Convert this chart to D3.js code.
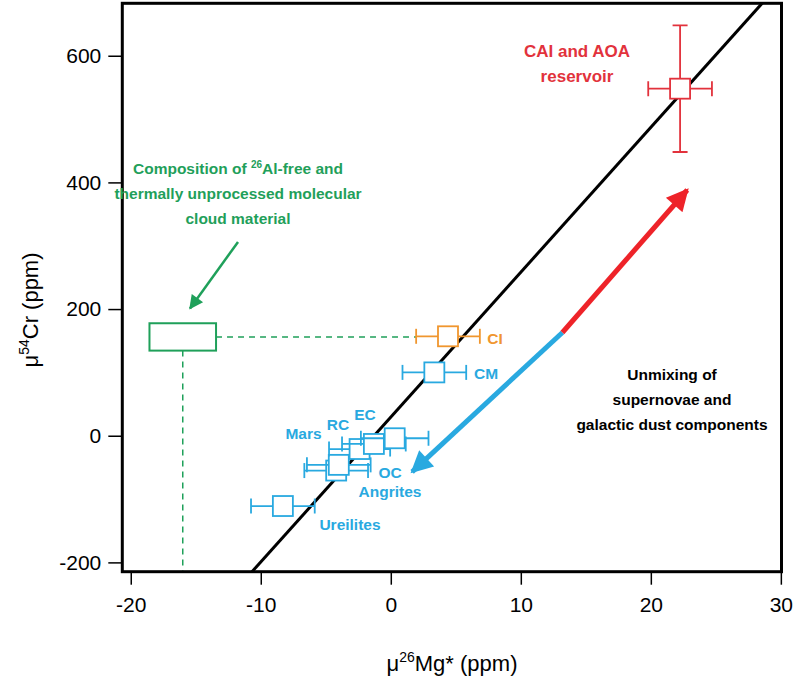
<!DOCTYPE html>
<html><head><meta charset="utf-8">
<script src="https://cdn.jsdelivr.net/npm/d3@7"></script>
<style>
body{margin:0;background:#fff;}
svg{display:block;font-family:"Liberation Sans",Arial,Helvetica,sans-serif;}
</style></head>
<body><svg id="c" width="796" height="682"></svg>
<script>
// ---- data ----
const groups = ["Ureilites","Angrites","OC","Mars","RC","EC","CM","CI","CAI and AOA"];
const mg26 = [-8.3,-4.2,-4.0,-2.4,-1.3,0.3,3.35,4.4,22.25];
const cr54 = [-111,-55,-46,-21,-13,-4,100,157,548];
const mgErr = [2.45,2.45,2.45,2.35,2.45,2.6,2.45,2.45,2.45];
const crErr = [0,0,0,0,0,0,0,0,100];
const pointColors = ["#29a9e0","#29a9e0","#29a9e0","#29a9e0","#29a9e0","#29a9e0","#29a9e0","#f0962e","#e2323c"];
const xTicks = [-20,-10,0,10,20,30];
const yTicks = [-200,0,200,400,600];
const lineIntercept = 29.4, lineSlope = 22.88;
// molecular cloud composition box
const cloudX = -16.0, cloudY = 156, cloudXErr = 2.56, cloudYErr = 21.6;
// unmixing arrow (data coords): blue end, split, red end
const arrowBlue = [1.64,-57], arrowSplit = [13.2,163], arrowRed = [22.8,388];
const greenArrow = [[-11.75,306],[-15.44,201]];

const svg = d3.select("#c");
const x = d3.scaleLinear().domain([-20.65,30.05]).range([122.3,781.5]);
const y = d3.scaleLinear().domain([-214.7,682.8]).range([571.7,3.3]);
const [X0,X1] = x.range(), [Y0,Y1] = y.range();

const defs = svg.append("defs");
defs.append("clipPath").attr("id","clip").append("rect")
  .attr("x",X0).attr("y",Y1).attr("width",X1-X0).attr("height",Y0-Y1);
function marker(id,color,w,h){
  defs.append("marker").attr("id",id).attr("viewBox","0 0 10 10").attr("refX",9).attr("refY",5)
   .attr("markerWidth",w).attr("markerHeight",h).attr("orient","auto").attr("markerUnits","userSpaceOnUse")
   .append("path").attr("d","M0,0 L10,5 L0,10 Z").attr("fill",color);
}
marker("hRed","#ee2329",26,22);
marker("hBlue","#29a9e0",26,22);
marker("hGreen","#1fa05a",16,14);

const fmt = d => String(d); // plain hyphen-minus as in the reference
// axes
const xAxis = svg.append("g").attr("transform",`translate(0,${Y0})`)
  .call(d3.axisBottom(x).tickValues(xTicks).tickSize(13).tickPadding(12).tickFormat(fmt));
const yAxis = svg.append("g").attr("transform",`translate(${X0},0)`)
  .call(d3.axisLeft(y).tickValues(yTicks).tickSize(14).tickPadding(7).tickFormat(fmt));
[xAxis,yAxis].forEach(g=>{
  g.select(".domain").remove();
  g.selectAll(".tick line").attr("stroke","#000").attr("stroke-width",1.5);
  g.selectAll(".tick text").attr("font-size",21).attr("fill","#000")
   .attr("font-family","Liberation Sans, Arial, sans-serif");
});

const plot = svg.append("g").attr("clip-path","url(#clip)");

// regression line
const lx0 = x.domain()[0], lx1 = x.domain()[1];
plot.append("line")
  .attr("x1",x(lx0)).attr("y1",y(lineIntercept+lineSlope*lx0))
  .attr("x2",x(lx1)).attr("y2",y(lineIntercept+lineSlope*lx1))
  .attr("stroke","#000").attr("stroke-width",3);

// green dashed guides & box
const green = "#1fa05a";
plot.append("line").attr("x1",x(cloudX)).attr("x2",x(cloudX))
  .attr("y1",y(cloudY-cloudYErr)).attr("y2",Y0)
  .attr("stroke",green).attr("stroke-width",1.5).attr("stroke-dasharray","6,5");
plot.append("line").attr("x1",x(cloudX+cloudXErr)).attr("x2",x(mg26[7]-mgErr[7]))
  .attr("y1",y(cloudY)).attr("y2",y(cloudY))
  .attr("stroke",green).attr("stroke-width",1.5).attr("stroke-dasharray","6,5");
plot.append("rect").attr("x",x(cloudX-cloudXErr)).attr("y",y(cloudY+cloudYErr))
  .attr("width",x(cloudX+cloudXErr)-x(cloudX-cloudXErr)).attr("height",y(cloudY-cloudYErr)-y(cloudY+cloudYErr))
  .attr("fill","none").attr("stroke",green).attr("stroke-width",2);

// points with error bars
const pts = groups.map((g,i)=>({g,x:mg26[i],y:cr54[i],ex:mgErr[i],ey:crErr[i],c:pointColors[i]}));
const cap = 7.5, half = 10;
const pg = plot.selectAll("g.pt").data(pts).join("g").attr("class","pt");
pg.append("line").attr("x1",d=>x(d.x-d.ex)).attr("x2",d=>x(d.x+d.ex)).attr("y1",d=>y(d.y)).attr("y2",d=>y(d.y))
  .attr("stroke",d=>d.c).attr("stroke-width",1.8);
pg.append("line").attr("x1",d=>x(d.x-d.ex)).attr("x2",d=>x(d.x-d.ex)).attr("y1",d=>y(d.y)-cap).attr("y2",d=>y(d.y)+cap)
  .attr("stroke",d=>d.c).attr("stroke-width",1.8);
pg.append("line").attr("x1",d=>x(d.x+d.ex)).attr("x2",d=>x(d.x+d.ex)).attr("y1",d=>y(d.y)-cap).attr("y2",d=>y(d.y)+cap)
  .attr("stroke",d=>d.c).attr("stroke-width",1.8);
pg.filter(d=>d.ey>0).each(function(d){
  const s = d3.select(this);
  s.append("line").attr("x1",x(d.x)).attr("x2",x(d.x)).attr("y1",y(d.y+d.ey)).attr("y2",y(d.y-d.ey)).attr("stroke",d.c).attr("stroke-width",1.8);
  s.append("line").attr("x1",x(d.x)-cap).attr("x2",x(d.x)+cap).attr("y1",y(d.y+d.ey)).attr("y2",y(d.y+d.ey)).attr("stroke",d.c).attr("stroke-width",1.8);
  s.append("line").attr("x1",x(d.x)-cap).attr("x2",x(d.x)+cap).attr("y1",y(d.y-d.ey)).attr("y2",y(d.y-d.ey)).attr("stroke",d.c).attr("stroke-width",1.8);
});
pg.append("rect").attr("x",d=>x(d.x)-half).attr("y",d=>y(d.y)-half).attr("width",2*half).attr("height",2*half)
  .attr("fill","#fff").attr("stroke",d=>d.c).attr("stroke-width",1.8);

// unmixing arrow
plot.append("line").attr("x1",x(arrowSplit[0])).attr("y1",y(arrowSplit[1]))
  .attr("x2",x(arrowBlue[0])).attr("y2",y(arrowBlue[1]))
  .attr("stroke","#29a9e0").attr("stroke-width",5).attr("marker-end","url(#hBlue)");
plot.append("line").attr("x1",x(arrowSplit[0])).attr("y1",y(arrowSplit[1]))
  .attr("x2",x(arrowRed[0])).attr("y2",y(arrowRed[1]))
  .attr("stroke","#ee2329").attr("stroke-width",5).attr("marker-end","url(#hRed)");
// green arrow
plot.append("line").attr("x1",x(greenArrow[0][0])).attr("y1",y(greenArrow[0][1]))
  .attr("x2",x(greenArrow[1][0])).attr("y2",y(greenArrow[1][1]))
  .attr("stroke",green).attr("stroke-width",2.5).attr("marker-end","url(#hGreen)");

// frame
svg.append("rect").attr("x",X0).attr("y",Y1).attr("width",X1-X0).attr("height",Y0-Y1)
  .attr("fill","none").attr("stroke","#000").attr("stroke-width",3);

// point labels
const labelData = [
  {t:"Ureilites",x:350,y:530,c:"#29a9e0"},
  {t:"Angrites",x:390,y:497,c:"#29a9e0"},
  {t:"OC",x:390,y:478,c:"#29a9e0"},
  {t:"Mars",x:303.5,y:439,c:"#29a9e0"},
  {t:"RC",x:338,y:430,c:"#29a9e0"},
  {t:"EC",x:365,y:420,c:"#29a9e0"},
  {t:"CM",x:486,y:379,c:"#29a9e0"},
  {t:"CI",x:495,y:344,c:"#f0962e"}
];
svg.selectAll("text.lbl").data(labelData).join("text").attr("class","lbl")
  .attr("x",d=>d.x).attr("y",d=>d.y).attr("text-anchor","middle")
  .attr("font-size",15.5).attr("font-weight","bold").attr("fill",d=>d.c).text(d=>d.t);

// annotations
function block(lines,cx,cy,color,lh,fs){
  lines.forEach((l,i)=>{
    const t = svg.append("text").attr("x",cx).attr("y",cy+i*lh).attr("text-anchor","middle")
      .attr("font-size",fs).attr("font-weight","bold").attr("fill",color);
    l.forEach(seg=>{
      if(seg.sup) t.append("tspan").attr("font-size",10).attr("dy",-6).text(seg.s);
      else t.append("tspan").attr("dy",seg.after?6:0).text(seg.s);
    });
  });
}
block([[{s:"CAI and AOA"}],[{s:"reservoir"}]],577,57,"#e2323c",25,17);
block([[{s:"Composition of "},{s:"26",sup:true},{s:"Al-free and",after:true}],
       [{s:"thermally unprocessed molecular"}],[{s:"cloud material"}]],238,174,green,25,15.5);
block([[{s:"Unmixing of"}],[{s:"supernovae and"}],[{s:"galactic dust components"}]],672,380,"#000",25,15.5);

// axis titles
const xt = svg.append("text").attr("x",452).attr("y",671).attr("text-anchor","middle").attr("font-size",22);
xt.append("tspan").text("μ");
xt.append("tspan").attr("font-size",14).attr("dy",-9).text("26");
xt.append("tspan").attr("dy",9).text("Mg* (ppm)");
const yt = svg.append("text").attr("transform","translate(38,310) rotate(-90)").attr("text-anchor","middle").attr("font-size",22);
yt.append("tspan").text("μ");
yt.append("tspan").attr("font-size",14).attr("dy",-9).text("54");
yt.append("tspan").attr("dy",9).text("Cr (ppm)");
</script></body></html>
